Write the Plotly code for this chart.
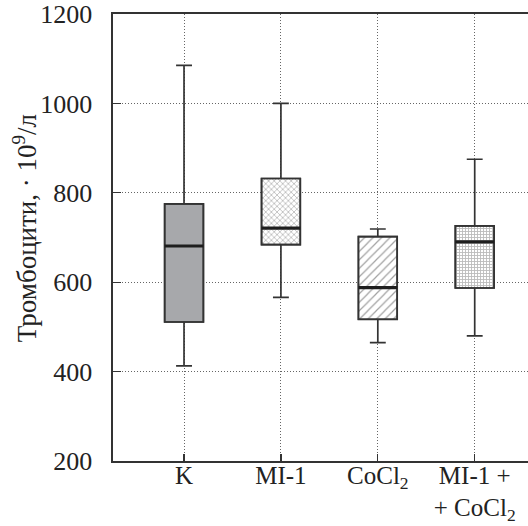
import plotly.graph_objects as go

categories = ["K", "MI-1", "CoCl<sub>2</sub>", "MI-1 +<br>+ CoCl<sub>2</sub>"]
lower = [413, 566, 465, 480]
q1 = [511, 684, 517, 587]
median = [681, 721, 588, 690]
q3 = [775, 832, 702, 726]
upper = [1085, 1000, 719, 875]
y_ticks = [200, 400, 600, 800, 1000, 1200]

fills = ["#a7a8ab", "white", "white", "white"]
shapes = ["", "x", "/", "+"]
pat_size = [8, 4, 6, 3]
pat_fg = ["#a7a8ab", "#808080", "#444444", "#777777"]
pat_solid = [0.3, 0.4, 0.2, 0.5]

pos = list(range(len(categories)))
box_w = 0.4

fig = go.Figure()

for i in pos:
    pattern = None
    if shapes[i]:
        pattern = dict(shape=shapes[i], size=pat_size[i], fgcolor=pat_fg[i],
                       bgcolor="white", solidity=pat_solid[i], fillmode="overlay")
    fig.add_trace(go.Bar(
        x=[pos[i]],
        y=[q3[i] - q1[i]],
        base=[q1[i]],
        width=box_w,
        marker=dict(color=fills[i], line=dict(color="#333333", width=1.6),
                    pattern=pattern),
        showlegend=False,
        hoverinfo="skip",
    ))

fig.add_trace(go.Box(
    x=pos,
    q1=q1, median=median, q3=q3,
    lowerfence=lower, upperfence=upper,
    width=box_w,
    whiskerwidth=0.41,
    fillcolor="rgba(0,0,0,0)",
    line=dict(color="#333333", width=1.7),
    showlegend=False,
))

mx, my = [], []
for i, m in zip(pos, median):
    mx += [i - box_w / 2, i + box_w / 2, None]
    my += [m, m, None]
fig.add_trace(go.Scatter(x=mx, y=my, mode="lines",
                         line=dict(color="#1e1e1e", width=3.2),
                         showlegend=False, hoverinfo="skip"))

font = dict(family="Liberation Serif", size=26, color="#222222")
xfont = dict(family="Liberation Serif", size=25, color="#222222")
title_font = dict(family="Liberation Serif", size=27, color="#222222")

fig.update_xaxes(
    range=[-0.733, 3.55],
    tickmode="array", tickvals=pos, ticktext=categories,
    showgrid=True, griddash="1px,2px", gridcolor="#666666", gridwidth=1,
    ticks="inside", ticklen=7, tickcolor="#333333", tickwidth=1.3,
    showline=True, linecolor="#333333", linewidth=1.6, mirror=True,
    zeroline=False, tickfont=xfont, ticklabelstandoff=-9,
    ticklabeloverflow="allow", automargin=False,
)
fig.update_yaxes(
    range=[200, 1200],
    tickmode="array", tickvals=y_ticks,
    showgrid=True, griddash="1px,2px", gridcolor="#666666", gridwidth=1,
    ticks="inside", ticklen=8, tickcolor="#333333", tickwidth=1.3,
    showline=True, linecolor="#333333", linewidth=1.6,
    zeroline=False, tickfont=font, ticklabelstandoff=14,
    ticklabeloverflow="allow", automargin=False,
)

fig.add_annotation(
    text="Тромбоцити, · 10<sup>9</sup>/л",
    xref="paper", yref="paper", x=-0.212, y=0.521,
    xanchor="center", yanchor="middle", textangle=-90,
    showarrow=False, font=title_font,
)

fig.update_layout(
    width=528, height=526,
    margin=dict(l=113, r=0, t=14, b=65),
    plot_bgcolor="white", paper_bgcolor="white",
    showlegend=False, bargap=0, barmode="overlay",
)

fig.write_html(
    "out.html",
    config={"displayModeBar": False, "staticPlot": True},
    post_script="document.body.style.margin='0px';document.body.style.overflow='hidden';",
)
